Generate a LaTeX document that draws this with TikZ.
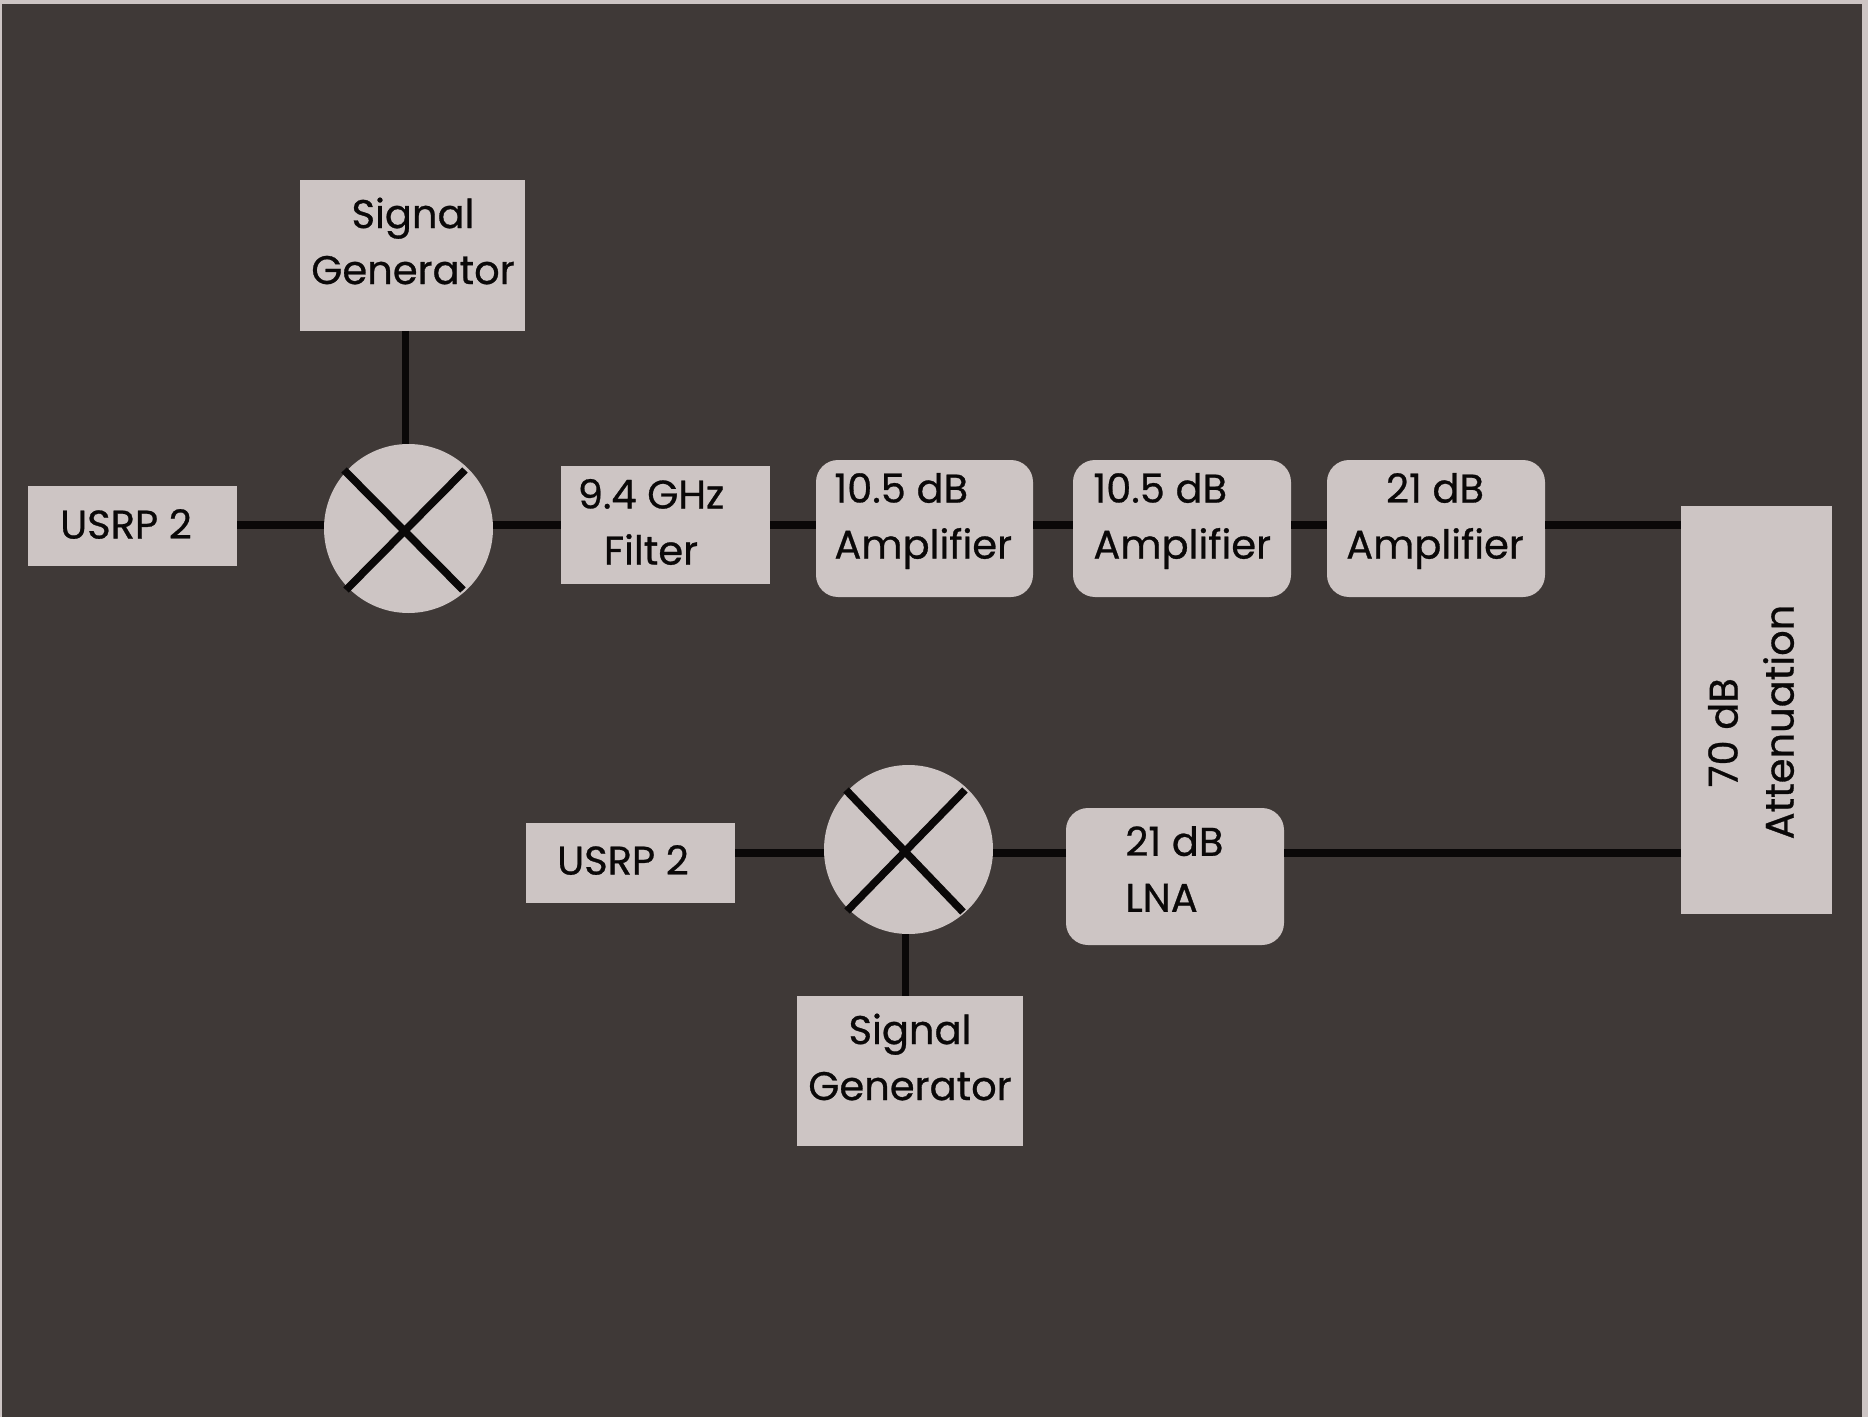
\documentclass[tikz,border=0pt]{standalone}
\usepackage{fontspec}
\setmainfont{Poppins}
\newfontfamily\lblfont[FakeBold=0.7]{Poppins}
\definecolor{pagec}{HTML}{CDC5C4}
\definecolor{bgc}{HTML}{3F3937}
\definecolor{boxc}{HTML}{CDC5C4}
\definecolor{linec}{HTML}{0A0808}
\begin{document}
\begin{tikzpicture}[x=0.5pt,y=-0.5pt,
  blk/.style={fill=boxc,draw=none,inner sep=0pt,outer sep=0pt},
  sqbox/.style={blk,rectangle},
  rndbox/.style={blk,rectangle,rounded corners=11pt},
  mixer/.style={blk,circle,minimum size=84.5pt},
  txt/.style={text=linec,font=\lblfont\fontsize{20}{28}\selectfont,inner sep=0pt},
  wire/.style={draw=linec,line width=4pt},
  thin wire/.style={draw=linec,line width=3.5pt},
  cross/.style={draw=linec,line width=3.8pt}]
\useasboundingbox (0,0) rectangle (1868,1417);
\fill[pagec] (0,0) rectangle (1868,1417);
\fill[bgc] (2,4) rectangle (1862,1417);
% blocks
\node[sqbox,minimum width=112.5pt,minimum height=75.5pt] (sg1) at (412.5,255.5) {};
\node[sqbox,minimum width=104.5pt,minimum height=40pt] (u1) at (132.5,526) {};
\node[mixer] (m1) at (408.5,528.5) {};
\node[sqbox,minimum width=104.5pt,minimum height=59pt] (flt) at (665.5,525) {};
\node[rndbox,minimum width=108.5pt,minimum height=68.5pt] (a1) at (924.5,528.5) {};
\node[rndbox,minimum width=109pt,minimum height=68.5pt] (a2) at (1182,528.5) {};
\node[rndbox,minimum width=109pt,minimum height=68.5pt] (a3) at (1436,528.5) {};
\node[sqbox,minimum width=75.5pt,minimum height=204pt] (att) at (1756.5,709.5) {};
\node[sqbox,minimum width=104.5pt,minimum height=40pt] (u2) at (630,863) {};
\node[mixer] (m2) at (908.5,849.5) {};
\node[rndbox,minimum width=109pt,minimum height=68.5pt] (lna) at (1175,876.5) {};
\node[sqbox,minimum width=113pt,minimum height=75pt] (sg2) at (910,1071) {};
% rows of the connectors
\coordinate (rowa) at (0,525);
\coordinate (rowb) at (0,852.5);
\coordinate (cola) at (405.5,0);
\coordinate (colb) at (905.5,0);
% connectors
\draw[wire] (u1.east |- rowa) -- (m1.west |- rowa);
\draw[wire] (m1.east |- rowa) -- (flt.west |- rowa);
\draw[wire] (flt.east |- rowa) -- (a1.west |- rowa);
\draw[wire] (a1.east |- rowa) -- (a2.west |- rowa);
\draw[wire] (a2.east |- rowa) -- (a3.west |- rowa);
\draw[wire] (a3.east |- rowa) -- (att.west |- rowa);
\draw[wire] (att.west |- rowb) -- (lna.east |- rowb);
\draw[wire] (lna.west |- rowb) -- (m2.east |- rowb);
\draw[wire] (m2.west |- rowb) -- (u2.east |- rowb);
\draw[thin wire] (cola |- sg1.south) -- (cola |- m1.north);
\draw[thin wire] (colb |- m2.south) -- (colb |- sg2.north);
% mixer crosses
\coordinate (m1a) at (344,470); \coordinate (m1b) at (463,590);
\coordinate (m1c) at (465,470); \coordinate (m1d) at (346,590);
\draw[cross] (m1a) -- (m1b);
\draw[cross] (m1c) -- (m1d);
\coordinate (m2a) at (846,790); \coordinate (m2b) at (963,912);
\coordinate (m2c) at (965,790); \coordinate (m2d) at (847,911);
\draw[cross] (m2a) -- (m2b);
\draw[cross] (m2c) -- (m2d);
% labels
\node[txt,align=center] (tsg1) at (413,241) {Signal\\Generator};
\node[txt] (tu1) at (126,524) {USRP 2};
\node[txt,align=center] (tflt) at (651,522) {9.4 GHz\\Filter};
\node[txt,align=left,anchor=west] (ta1) at (834,521) {10.5 dB\\Amplifier};
\node[txt,align=left,anchor=west] (ta2) at (1093,521) {10.5 dB\\Amplifier};
\node[txt,align=center] (ta3) at (1435,521) {21 dB\\Amplifier};
\node[txt,align=center,rotate=90] (tatt) at (1751,722) {70 dB\hspace*{10.7pt}\\Attenuation};
\node[txt] (tu2) at (623,860) {USRP 2};
\node[txt,align=left,anchor=west] (tlna) at (1125,869) {21 dB\\LNA};
\node[txt,align=center] (tsg2) at (910,1057) {Signal\\Generator};
\end{tikzpicture}
\end{document}
